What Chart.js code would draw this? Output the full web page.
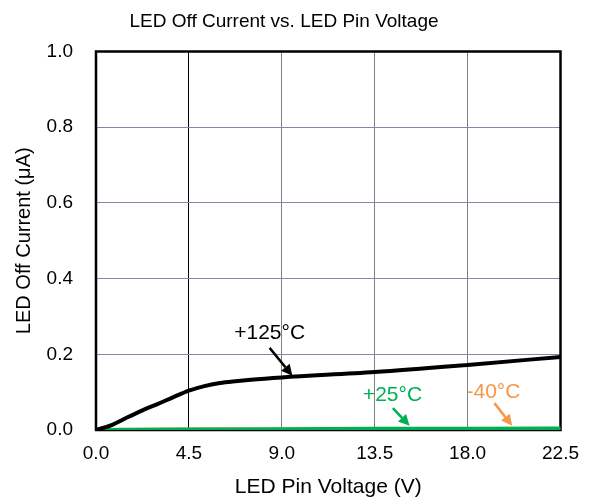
<!DOCTYPE html>
<html>
<head>
<meta charset="utf-8">
<script src="https://cdn.jsdelivr.net/npm/chart.js@4"></script>
<style>
html,body{margin:0;padding:0;background:#fff;}
#wrap{width:591px;height:501px;}
</style>
</head>
<body>
<div id="wrap"><canvas id="c" width="591" height="501"></canvas></div>
<script>
// ---- data ----
const voltsHot = [0, 0.75, 1.5, 2.25, 3.0, 3.75, 4.5, 5.25, 6.0, 6.75, 7.5, 9.0, 13.5, 18.0, 22.5];
const currentHot = [0, 0.013, 0.033, 0.052, 0.069, 0.087, 0.104, 0.116, 0.124, 0.129, 0.133, 0.139, 0.153, 0.172, 0.193];
const voltsRoom = [0, 4.5, 9.0, 13.5, 18.0, 22.5];
const currentRoom = [0, 0.001, 0.002, 0.003, 0.003, 0.004];
const voltsCold = [0, 4.5, 9.0, 13.5, 18.0, 22.5];
const currentCold = [0, 0.001, 0.001, 0.002, 0.002, 0.002];
const seriesNames = ['+125°C', '+25°C', '-40°C'];
const xTicks = [0, 4.5, 9.0, 13.5, 18.0, 22.5];
const yTicks = [0, 0.2, 0.4, 0.6, 0.8, 1.0];

const black = '#000000', green = '#00b050', orange = '#f79646';

// annotation labels: [text, color, textX, textY, arrowFromX, arrowFromY, arrowToX, arrowToY] in data units
const notes = [
  [seriesNames[0], black, 8.41, 0.256, 8.41, 0.217, 9.51, 0.143],
  [seriesNames[1], green, 14.36, 0.093, 14.38, 0.058, 15.19, 0.011],
  [seriesNames[2], orange, 19.25, 0.099, 19.30, 0.071, 20.16, 0.011]
];

const toPts = (xs, ys) => xs.map((x, i) => ({x: x, y: ys[i]}));

const FONT = "'Liberation Sans', Arial, sans-serif";

const framePlugin = {
  id: 'frame',
  beforeDatasetsDraw(chart) {
    const {ctx, chartArea: a} = chart;
    ctx.save();
    ctx.strokeStyle = '#000';
    ctx.lineWidth = 2.5;
    ctx.strokeRect(a.left, a.top, a.right - a.left, a.bottom - a.top);
    ctx.restore();
  },
  afterDatasetsDraw(chart) {
    const {ctx} = chart;
    const xs = chart.scales.x, ys = chart.scales.y;
    ctx.save();
    notes.forEach(n => {
      const [txt, col, tx, ty, fx, fy, ax, ay] = n;
      ctx.fillStyle = col;
      ctx.strokeStyle = col;
      ctx.font = '21px ' + FONT;
      ctx.textAlign = 'center';
      ctx.textBaseline = 'middle';
      ctx.fillText(txt, xs.getPixelForValue(tx), ys.getPixelForValue(ty));
      const x1 = xs.getPixelForValue(fx), y1 = ys.getPixelForValue(fy);
      const x2 = xs.getPixelForValue(ax), y2 = ys.getPixelForValue(ay);
      const ang = Math.atan2(y2 - y1, x2 - x1);
      const head = 11, hw = 5.5;
      const bx = x2 - head * Math.cos(ang), by = y2 - head * Math.sin(ang);
      ctx.lineWidth = 2.5;
      ctx.beginPath();
      ctx.moveTo(x1, y1);
      ctx.lineTo(bx, by);
      ctx.stroke();
      ctx.beginPath();
      ctx.moveTo(x2, y2);
      ctx.lineTo(bx + hw * Math.sin(ang), by - hw * Math.cos(ang));
      ctx.lineTo(bx - hw * Math.sin(ang), by + hw * Math.cos(ang));
      ctx.closePath();
      ctx.fill();
    });
    ctx.restore();
  }
};

new Chart(document.getElementById('c'), {
  type: 'line',
  data: {
    datasets: [
      {label: seriesNames[0], data: toPts(voltsHot, currentHot), borderColor: black, borderWidth: 4, pointRadius: 0, cubicInterpolationMode: 'monotone'},
      {label: seriesNames[1], data: toPts(voltsRoom, currentRoom), borderColor: green, borderWidth: 4, pointRadius: 0, tension: 0},
      {label: seriesNames[2], data: toPts(voltsCold, currentCold), borderColor: orange, borderWidth: 4, pointRadius: 0, tension: 0}
    ]
  },
  options: {
    responsive: false,
    animation: false,
    layout: {padding: {left: 0, right: 23, top: 0, bottom: 0}},
    plugins: {
      legend: {display: false},
      tooltip: {enabled: false},
      title: {
        display: true,
        text: 'LED Off Current vs. LED Pin Voltage',
        color: '#000',
        font: {family: FONT, size: 19, weight: 'normal'},
        padding: {top: 10, bottom: 18.7}
      }
    },
    scales: {
      x: {
        type: 'linear',
        min: 0, max: 22.5,
        afterBuildTicks: s => { s.ticks = xTicks.map(v => ({value: v})); },
        afterFit: s => { s.height = 71; },
        border: {display: false},
        grid: {
          drawTicks: false,
          color: c => (c.tick && c.tick.value === 4.5) ? '#000' : '#808080',
          lineWidth: 1
        },
        ticks: {
          color: '#000',
          padding: 12,
          maxRotation: 0,
          font: {family: FONT, size: 19},
          callback: v => Number(v).toFixed(1)
        },
        title: {
          display: true,
          text: 'LED Pin Voltage (V)',
          color: '#000',
          font: {family: FONT, size: 21},
          padding: {top: 0, bottom: 1.5}
        }
      },
      y: {
        type: 'linear',
        min: 0, max: 1.0,
        afterBuildTicks: s => { s.ticks = yTicks.map(v => ({value: v})); },
        afterFit: s => { s.width = 96; },
        border: {display: false},
        grid: {
          drawTicks: false,
          color: '#7d8ca3',
          lineWidth: 1
        },
        ticks: {
          color: '#000',
          padding: 23,
          font: {family: FONT, size: 19},
          callback: v => Number(v).toFixed(1)
        },
        title: {
          display: true,
          text: 'LED Off Current (μA)',
          color: '#000',
          font: {family: FONT, size: 20},
          padding: {top: 12, bottom: 0}
        }
      }
    }
  },
  plugins: [framePlugin]
});
</script>
</body>
</html>
